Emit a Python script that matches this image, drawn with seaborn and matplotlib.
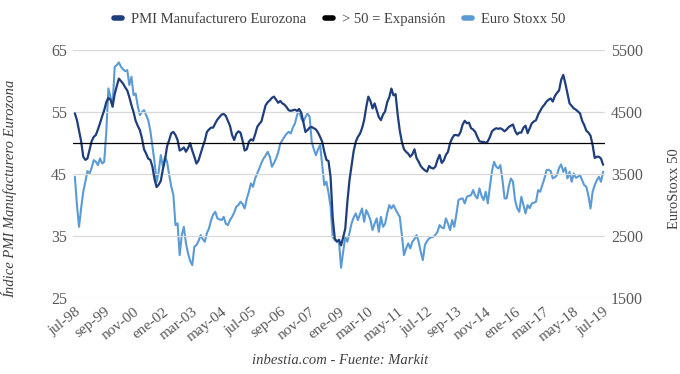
import numpy as np
import pandas as pd
import matplotlib
matplotlib.use("Agg")
import matplotlib.pyplot as plt
import seaborn as sns
from matplotlib.lines import Line2D

# ---- data (monthly, jul-98 .. jul-19) ----
pmi = [
    54.8, 53.7, 52.0, 50.3, 47.8, 47.3, 47.5, 48.9, 50.3, 51.0, 51.3, 52.2,
    53.2, 54.3, 55.3, 56.6, 57.3, 57.0, 55.9, 57.9, 59.2, 60.4, 60.0, 59.6,
    59.0, 58.5, 57.4, 56.1, 55.0, 53.6, 52.8, 52.1, 50.8, 49.0, 48.3, 47.5,
    47.3, 46.2, 44.2, 42.9, 43.3, 43.9, 45.8, 47.3, 49.5, 50.5, 51.6, 51.8,
    51.3, 50.5, 48.8, 49.0, 49.3, 48.6, 49.2, 50.0, 48.8, 47.8, 46.7, 47.2,
    48.3, 49.4, 50.4, 51.8, 52.2, 52.5, 52.5, 53.2, 53.8, 54.2, 54.6, 54.7,
    54.4, 53.6, 52.8, 51.3, 50.5, 51.5, 51.9, 51.7, 50.4, 48.8, 49.0, 50.2,
    50.6, 50.4, 51.4, 52.6, 53.1, 53.5, 54.8, 56.1, 56.6, 56.9, 57.3, 57.5,
    57.0, 56.5, 56.8, 56.4, 56.2, 55.8, 55.3, 55.2, 55.3, 55.4, 55.2, 55.5,
    54.9, 53.4, 51.8, 52.1, 52.5, 52.6, 52.4, 52.2, 51.7, 51.0, 50.2, 48.6,
    47.3, 47.1, 44.5, 38.0, 34.6, 34.1, 34.4, 33.5, 34.8, 36.2, 40.5, 44.0,
    46.3, 48.7, 50.2, 51.0, 51.5, 52.4, 53.7, 55.8, 57.5, 56.8, 55.6, 56.4,
    55.3, 54.2, 53.7, 54.6, 55.1, 56.6, 57.4, 58.8, 57.7, 57.9, 54.6, 52.0,
    50.2, 49.0, 48.6, 48.3, 47.8, 48.2, 49.0, 47.6, 47.0, 46.3, 45.9, 45.6,
    45.4, 46.3, 46.0, 45.9, 46.2, 47.3, 48.1, 46.8, 47.2, 48.1, 48.6, 50.0,
    50.8, 51.3, 51.3, 51.2, 51.8, 53.0, 53.6, 53.2, 53.3, 52.4, 52.2, 51.8,
    51.0, 50.3, 50.2, 50.2, 50.0, 50.3, 51.0, 51.9, 52.2, 52.4, 52.3, 52.4,
    52.2, 51.9, 52.2, 52.6, 52.8, 53.0, 52.0, 51.4, 51.7, 51.7, 52.5, 52.8,
    51.6, 52.4, 53.2, 53.5, 53.7, 54.6, 55.2, 55.8, 56.2, 56.7, 57.0, 57.2,
    56.7, 57.6, 58.1, 58.5, 60.2, 61.0, 59.6, 58.0, 56.4, 56.0, 55.6, 55.4,
    55.1, 54.8, 53.6, 52.9, 52.0, 51.7, 51.2, 49.7, 47.6, 47.8, 47.8, 47.5,
    46.5,
]
stoxx = [
    3457, 3000, 2650, 2950, 3215, 3376, 3548, 3511, 3600, 3726, 3700, 3645,
    3753, 3672, 3698, 4182, 4882, 4747, 4585, 5231, 5258, 5302, 5231, 5190,
    5161, 5177, 4935, 5070, 4774, 4801, 4600, 4452, 4500, 4532, 4450, 4371,
    4200, 3950, 3698, 3376, 3537, 3806, 3618, 3779, 3700, 3484, 3300, 3161,
    2677, 2705, 2193, 2516, 2650, 2382, 2221, 2100, 2032, 2327, 2355, 2420,
    2516, 2450, 2408, 2550, 2624, 2758, 2850, 2892, 2785, 2770, 2758, 2811,
    2700, 2677, 2760, 2811, 2880, 2973, 3000, 3053, 3020, 2946, 3100, 3215,
    3350, 3295, 3430, 3510, 3591, 3680, 3750, 3800, 3860, 3780, 3618, 3680,
    3753, 3850, 3995, 4050, 4102, 4150, 4182, 4156, 4250, 4318, 4450, 4532,
    4398, 4344, 4420, 4479, 4424, 4021, 3900, 3806, 3900, 3968, 3645, 3322,
    3376, 3200, 2973, 2488, 2435, 2420, 2408, 1988, 2247, 2488, 2408, 2550,
    2705, 2800, 2866, 2758, 2850, 2946, 2731, 2919, 2850, 2758, 2597, 2700,
    2785, 2570, 2811, 2650, 2700, 2866, 3000, 2946, 3000, 2930, 2866, 2811,
    2516, 2193, 2300, 2382, 2301, 2408, 2450, 2516, 2408, 2250, 2113, 2355,
    2420, 2462, 2480, 2488, 2520, 2570, 2677, 2640, 2624, 2785, 2700, 2597,
    2758, 2650, 2850, 3081, 3100, 3108, 3027, 3134, 3150, 3161, 3242, 3150,
    3108, 3269, 3150, 3081, 3215, 3027, 3300, 3550, 3698, 3620, 3591, 3645,
    3400, 3108, 3108, 3300, 3430, 3376, 3081, 2950, 2892, 3134, 3000, 2866,
    3000, 2950, 3027, 3040, 3053, 3242, 3215, 3320, 3430, 3564, 3570, 3548,
    3430, 3450, 3484, 3600, 3656, 3537, 3602, 3430, 3537, 3376, 3511, 3440,
    3457, 3484, 3400, 3322, 3295, 3150, 2946, 3215, 3322, 3400, 3457, 3376,
    3537,
]
expansion_level = 50
tick_labels = ["jul-98", "sep-99", "nov-00", "ene-02", "mar-03", "may-04", "jul-05",
               "sep-06", "nov-07", "ene-09", "mar-10", "may-11", "jul-12", "sep-13",
               "nov-14", "ene-16", "mar-17", "may-18", "jul-19"]
tick_step = 14

months = np.arange(len(pmi))
df = pd.DataFrame({"mes": months, "pmi": pmi, "stoxx": stoxx})

# ---- style ----
sns.set_theme(style="white")
plt.rcParams["font.family"] = ["Liberation Serif", "DejaVu Serif"]

c_pmi = "#1F3E7C"
c_stoxx = "#5B9BD5"
c_txt = "#595959"

fig = plt.figure(figsize=(6.8, 3.74), dpi=100)
ax = fig.add_axes([0.107, 0.203, 0.783, 0.663])
ax2 = ax.twinx()

sns.lineplot(data=df, x="mes", y="pmi", ax=ax, color=c_pmi, linewidth=1.6, zorder=3)
ax.axhline(expansion_level, color="black", linewidth=0.9, zorder=4)
sns.lineplot(data=df, x="mes", y="stoxx", ax=ax2, color=c_stoxx, linewidth=1.5, zorder=2)

ax.set_zorder(ax2.get_zorder() + 1)
ax.patch.set_visible(False)

ax.set_ylim(25, 65)
ax2.set_ylim(1500, 5500)
ax.set_yticks([25, 35, 45, 55, 65])
ax2.set_yticks([1500, 2500, 3500, 4500, 5500])
ax.set_xlim(-1, len(pmi))
ax.set_xticks(np.arange(0, len(pmi), tick_step))
ax.set_xticklabels(tick_labels, rotation=38, ha="right", rotation_mode="anchor")

for a in (ax, ax2):
    for s in a.spines.values():
        s.set_visible(False)
    a.tick_params(axis="y", length=0, labelsize=11.5, colors=c_txt, pad=4)
ax.tick_params(axis="x", length=0, labelsize=11, colors=c_txt, pad=5)
ax2.grid(False)
ax.grid(False)
for yv in [25, 35, 45, 55, 65]:
    ax.axhline(yv, color="#D9D9D9", linewidth=0.9, zorder=0)

ax.set_xlabel("")
ax.set_ylabel("Índice PMI Manufacturero Eurozona", fontsize=10.5, style="italic",
              color="#404040")
ax.yaxis.set_label_coords(-0.105, 0.44)
ax2.set_ylabel("EuroStoxx 50", fontsize=10.5, color="#404040")
ax2.yaxis.set_label_coords(1.118, 0.44)

handles = [
    Line2D([], [], color=c_pmi, linewidth=4),
    Line2D([], [], color="black", linewidth=4),
    Line2D([], [], color=c_stoxx, linewidth=4),
]
fig.legend(handles, ["PMI Manufacturero Eurozona", "> 50 = Expansión", "Euro Stoxx 50"],
           loc="center", bbox_to_anchor=(0.5, 0.947), ncol=3, frameon=False,
           fontsize=10.5, handlelength=0.55, handletextpad=0.6, columnspacing=1.3,
           labelcolor="#404040")

fig.text(0.5, 0.037, "inbestia.com - Fuente: Markit", ha="center", va="center",
         fontsize=10.5, style="italic", color="#404040")

fig.savefig("out.png", dpi=100)
